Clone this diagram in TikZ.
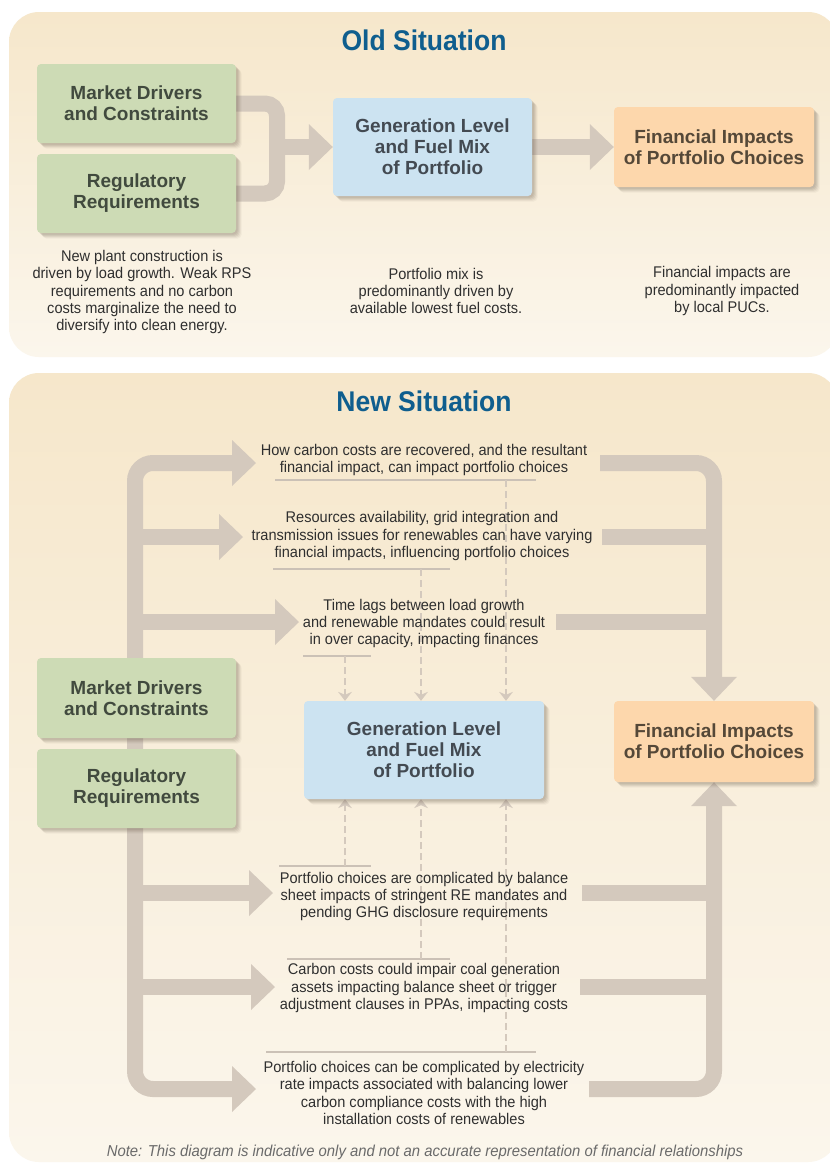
\documentclass[tikz,border=0pt]{standalone}
\usepackage{fontspec}
\setmainfont{Liberation Sans}
\newfontfamily\bodyfont[FakeStretch=0.94]{Liberation Sans}
\newfontfamily\titlefont[FakeStretch=0.93]{Liberation Sans}
\usetikzlibrary{arrows.meta,shadows}
\definecolor{panelTop}{HTML}{F6E7CB}
\definecolor{panelBot}{HTML}{FBF6EC}
\definecolor{bandc}{HTML}{D4C9BD}
\definecolor{greenbox}{HTML}{CDDBB5}
\definecolor{bluebox}{HTML}{CCE3F1}
\definecolor{orangebox}{HTML}{FDD7AC}
\definecolor{titleblue}{HTML}{0F5E8E}
\definecolor{greenlabel}{HTML}{414A3E}
\definecolor{bluelabel}{HTML}{434A52}
\definecolor{orangelabel}{HTML}{554838}
\definecolor{bodytext}{HTML}{2F2F2F}
\definecolor{notegrey}{HTML}{6A6A6A}
\definecolor{rulegrey}{HTML}{CBC1B6}
\definecolor{shadowc}{HTML}{6B5E4E}
\pgfdeclarelayer{back}
\pgfdeclarelayer{mid}
\pgfsetlayers{back,mid,main}
\tikzset{
  Fat/.tip={Triangle[length=24pt 0 0,width=46pt 0 0,line width=0pt]},
  Small/.tip={Stealth[length=9pt 0 0,width=14pt 0 0,inset=3pt,line width=0pt]},
  band/.style={draw=bandc,line width=16pt},
  dashlink/.style={draw=bandc,line width=2.8pt,dash pattern=on 7pt off 4pt,-Small},
  rulel/.style={draw=rulegrey,line width=1.1pt},
  softshadow/.style={
    general shadow={fill=shadowc,opacity=0.10,shadow xshift=1.5pt,shadow yshift=-1.5pt},
    general shadow={fill=shadowc,opacity=0.10,shadow xshift=2.5pt,shadow yshift=-2.5pt},
    general shadow={fill=shadowc,opacity=0.10,shadow xshift=3.5pt,shadow yshift=-3.5pt},
    general shadow={fill=shadowc,opacity=0.08,shadow xshift=4.5pt,shadow yshift=-4.5pt},
    general shadow={fill=shadowc,opacity=0.06,shadow xshift=5.5pt,shadow yshift=-5.5pt}},
  box/.style={rounded corners=4pt,align=center,inner sep=0pt,
    font=\fontsize{19}{21}\selectfont\bfseries,softshadow},
  gbox/.style={box,fill=greenbox,text=greenlabel,minimum width=199pt},
  bbox/.style={box,fill=bluebox,text=bluelabel},
  obox/.style={box,fill=orangebox,text=orangelabel,minimum width=200pt},
  title/.style={font=\titlefont\fontsize{28.5}{30}\selectfont\bfseries,text=titleblue},
  body/.style={align=center,text=bodytext,inner sep=2pt,font=\bodyfont\fontsize{15.5}{17.3}\selectfont},
  note/.style={text=notegrey,inner sep=0pt,font=\bodyfont\fontsize{15.8}{17}\selectfont\itshape},
  panel/.style={top color=panelTop,bottom color=panelBot,rounded corners=30pt}
}
\begin{document}
\begin{tikzpicture}[x=1pt,y=-1pt]
\useasboundingbox (0,0) rectangle (830,1163);
\begin{pgfonlayer}{back}
\fill[white] (0,0) rectangle (830,1163);
\shade[panel] (9,12) rectangle (838,357);
\shade[panel] (9,373) rectangle (838,1162);
\end{pgfonlayer}

% ---------------- Old situation ----------------
\node[title] (oldtitle) at (424,40) {Old Situation};
\node[gbox,minimum height=79pt] (og1) at (136.5,103.5) {Market Drivers\\and Constraints};
\node[gbox,minimum height=79pt] (og2) at (136.5,193.5) {Regulatory\\Requirements};
\node[bbox,minimum width=199pt,minimum height=98pt] (ob) at (432.5,147) {Generation Level\\and Fuel Mix\\of Portfolio};
\node[obox,minimum height=80pt] (oo) at (714,147) {Financial Impacts\\of Portfolio Choices};

\node[body] (otl) at (142,292) {New plant construction is\\driven by load growth. Weak RPS\\requirements and no carbon\\costs marginalize the need to\\diversify into clean energy.};
\node[body] (otm) at (436,291) {Portfolio mix is\\predominantly driven by\\available lowest fuel costs.};
\node[body] (otr) at (722,291) {Financial impacts are\\predominantly impacted\\by local PUCs.};

\coordinate (ojoin) at (277,147);
\begin{pgfonlayer}{mid}
\draw[band,rounded corners=12pt] (og1.center) -- (277,103.5) -- (277,193.5) -- (og2.center);
\draw[band,-Fat] (ojoin) -- (ob.west);
\draw[band,-Fat] (ob.center) -- (oo.west);
\end{pgfonlayer}

% ---------------- New situation ----------------
\node[title] (newtitle) at (424,401) {New Situation};
\node[gbox,minimum height=80pt] (ng1) at (136.5,698) {Market Drivers\\and Constraints};
\node[gbox,minimum height=79pt] (ng2) at (136.5,788.5) {Regulatory\\Requirements};
\node[bbox,minimum width=240pt,minimum height=98pt] (nb) at (424,750) {Generation Level\\and Fuel Mix\\of Portfolio};
\node[obox,minimum height=81pt] (no) at (714,741.5) {Financial Impacts\\of Portfolio Choices};

\node[body] (t1) at (424,460) {How carbon costs are recovered, and the resultant\\financial impact, can impact portfolio choices};
\node[body] (t2) at (422,536) {Resources availability, grid integration and\\transmission issues for renewables can have varying\\financial impacts, influencing portfolio choices};
\node[body] (t3) at (424,623.5) {Time lags between load growth\\and renewable mandates could result\\in over capacity, impacting finances};
\node[body] (t4) at (424,896.5) {Portfolio choices are complicated by balance\\sheet impacts of stringent RE mandates and\\pending GHG disclosure requirements};
\node[body] (t5) at (424,988) {Carbon costs could impair coal generation\\assets impacting balance sheet or trigger\\adjustment clauses in PPAs, impacting costs};
\node[body] (t6) at (424,1093) {Portfolio choices can be complicated by electricity\\rate impacts associated with balancing lower\\carbon compliance costs with the high\\installation costs of renewables};

\node[note] (note) at (425,1152) {Note: This diagram is indicative only and not an accurate representation of financial relationships};

% arrow tips (left) and band starts (right)
\coordinate (a1) at (256,463);
\coordinate (a2) at (243,537);
\coordinate (a3) at (299,622);
\coordinate (a4) at (273,893);
\coordinate (a5) at (275,987);
\coordinate (a6) at (256,1089);
\coordinate (r1) at (600,463);
\coordinate (r2) at (602,537);
\coordinate (r3) at (556,622);
\coordinate (r4) at (582,893);
\coordinate (r5) at (580,987);
\coordinate (r6) at (589,1089);
% dashed link starts
\coordinate (d1) at (506,480);
\coordinate (d2) at (421,569);
\coordinate (d3) at (345,656);
\coordinate (d4) at (345,866);
\coordinate (d5) at (421,959);
\coordinate (d6) at (506,1052);

\begin{pgfonlayer}{mid}
% left trunk
\draw[band,Fat-Fat,rounded corners=18pt] (a1) -- (135,463) -- (135,1089) -- (a6);
\draw[band,-Fat] (135,537) -- (a2);
\draw[band,-Fat] (135,622) -- (a3);
\draw[band,-Fat] (135,893) -- (a4);
\draw[band,-Fat] (135,987) -- (a5);
% right trunk
\draw[band,-Fat,rounded corners=18pt] (r1) -- (r1 -| no.north) -- (no.north);
\draw[band,-Fat,rounded corners=18pt] (r6) -- (r6 -| no.south) -- (no.south);
\draw[band] (r2) -- (r2 -| no.north);
\draw[band] (r3) -- (r3 -| no.north);
\draw[band] (r4) -- (r4 -| no.north);
\draw[band] (r5) -- (r5 -| no.north);
% rules under / over the texts
\draw[rulel] (275,480) -- (536,480);
\draw[rulel] (273,569) -- (450,569);
\draw[rulel] (303,656) -- (371,656);
\draw[rulel] (279,866) -- (371,866);
\draw[rulel] (287,959) -- (450,959);
\draw[rulel] (266,1052) -- (536,1052);
% dashed links into the portfolio box
\draw[dashlink] (d1) -- (d1 |- nb.north);
\draw[dashlink] (d2) -- (d2 |- nb.north);
\draw[dashlink] (d3) -- (d3 |- nb.north);
\draw[dashlink] (d4) -- (d4 |- nb.south);
\draw[dashlink] (d5) -- (d5 |- nb.south);
\draw[dashlink] (d6) -- (d6 |- nb.south);
\end{pgfonlayer}
\end{tikzpicture}
\end{document}
